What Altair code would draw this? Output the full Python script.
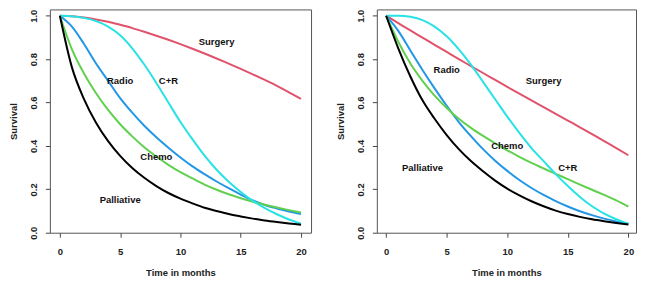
import altair as alt
import pandas as pd

months = list(range(21))

# Left panel
left_surgery = [1.0, 0.998, 0.992, 0.983, 0.972, 0.958, 0.943, 0.926, 0.908, 0.889, 0.869,
                0.848, 0.826, 0.803, 0.779, 0.755, 0.730, 0.704, 0.677, 0.647, 0.617]
left_radio = [1.0, 0.95, 0.87, 0.78, 0.70, 0.62, 0.553, 0.493, 0.44, 0.392, 0.347,
              0.306, 0.27, 0.236, 0.205, 0.176, 0.149, 0.128, 0.112, 0.098, 0.086]
left_chemo = [1.0, 0.845, 0.734, 0.643, 0.566, 0.50, 0.444, 0.394, 0.351, 0.313, 0.279,
              0.25, 0.222, 0.198, 0.177, 0.159, 0.143, 0.129, 0.116, 0.104, 0.093]
left_cr = [1.0, 0.998, 0.99, 0.975, 0.95, 0.91, 0.85, 0.775, 0.69, 0.6, 0.51,
           0.43, 0.355, 0.29, 0.235, 0.188, 0.147, 0.113, 0.085, 0.061, 0.042]
left_pall = [1.0, 0.762, 0.616, 0.507, 0.422, 0.354, 0.298, 0.253, 0.215, 0.183, 0.157,
             0.135, 0.115, 0.1, 0.086, 0.075, 0.065, 0.056, 0.049, 0.043, 0.037]

# Right panel
right_surgery = [1.0, 0.966, 0.932, 0.899, 0.866, 0.833, 0.8, 0.768, 0.736, 0.704, 0.672,
                 0.641, 0.61, 0.579, 0.548, 0.517, 0.486, 0.454, 0.422, 0.39, 0.357]
right_radio = [1.0, 0.93, 0.84, 0.75, 0.665, 0.585, 0.51, 0.445, 0.385, 0.332, 0.285,
               0.243, 0.206, 0.174, 0.146, 0.121, 0.099, 0.081, 0.065, 0.052, 0.041]
right_chemo = [1.0, 0.88, 0.78, 0.70, 0.632, 0.575, 0.525, 0.483, 0.446, 0.412, 0.38,
               0.35, 0.322, 0.296, 0.271, 0.247, 0.222, 0.198, 0.174, 0.149, 0.12]
right_cr = [1.0, 1.0, 0.995, 0.98, 0.95, 0.905, 0.845, 0.775, 0.695, 0.615, 0.535,
            0.46, 0.39, 0.33, 0.27, 0.215, 0.165, 0.122, 0.088, 0.062, 0.041]
right_pall = [1.0, 0.85, 0.72, 0.61, 0.525, 0.45, 0.385, 0.33, 0.283, 0.24, 0.203,
              0.172, 0.145, 0.122, 0.102, 0.086, 0.073, 0.062, 0.053, 0.045, 0.038]

groups = ["Surgery", "Radio", "Chemo", "C+R", "Palliative"]
colors = ["#DF536B", "#2297E6", "#61D04F", "#28E2E5", "#000000"]

left_label_x = [13, 5, 8, 9, 5]
left_label_y = [0.88, 0.70, 0.35, 0.70, 0.15]
right_label_x = [13, 5, 10, 15, 3]
right_label_y = [0.70, 0.75, 0.40, 0.30, 0.30]

x_ticks = [0, 5, 10, 15, 20]
y_ticks = [0.0, 0.2, 0.4, 0.6, 0.8, 1.0]

FONT = "Liberation Sans"


def panel(series, lab_x, lab_y, xdom, width):
    rows = []
    for g, vals in zip(groups, series):
        for t, s in zip(months, vals):
            rows.append({"t": t, "s": s, "group": g})
    df = pd.DataFrame(rows)
    lab = pd.DataFrame({"t": lab_x, "s": lab_y, "group": groups})

    x = alt.X("t:Q", scale=alt.Scale(domain=xdom, nice=False, zero=False),
              axis=alt.Axis(values=x_ticks, title="Time in months", format="d"))
    y = alt.Y("s:Q", scale=alt.Scale(domain=[0, 1.029], nice=False, zero=False),
              axis=alt.Axis(values=y_ticks, title="Survival", format=".1f", labelAngle=-90))
    color = alt.Color("group:N", scale=alt.Scale(domain=groups, range=colors), legend=None)

    lines = alt.Chart(df).mark_line(strokeWidth=2, interpolate="monotone").encode(
        x=x, y=y, color=color, detail="group:N")
    texts = alt.Chart(lab).mark_text(font=FONT, fontWeight="bold", fontSize=9.5,
                                     color="#111111").encode(
        x="t:Q", y="s:Q", text="group:N")
    return alt.layer(lines, texts).properties(width=width, height=224)


left = panel([left_surgery, left_radio, left_chemo, left_cr, left_pall],
             left_label_x, left_label_y, [-0.83, 20.83], 262)
right = panel([right_surgery, right_radio, right_chemo, right_cr, right_pall],
              right_label_x, right_label_y, [-0.77, 20.63], 260)

chart = alt.hconcat(left, right, spacing=66, bounds="flush").properties(
    padding={"left": 0, "top": 0, "right": 0, "bottom": 0}
).configure_view(
    stroke="#555555", strokeWidth=1
).configure_axis(
    domain=False, grid=False, tickSize=4.5, tickColor="#444444",
    labelFont=FONT, labelFontWeight="bold", labelFontSize=9.5, labelColor="#222222",
    titleFont=FONT, titleFontWeight="bold", titleFontSize=9.5, titleColor="#222222",
)
chart = chart.configure_axisX(labelPadding=9.4, titlePadding=12).configure_axisY(
    labelPadding=7, titlePadding=10)

chart.save("out.html", embed_options={"renderer": "svg", "actions": False})
